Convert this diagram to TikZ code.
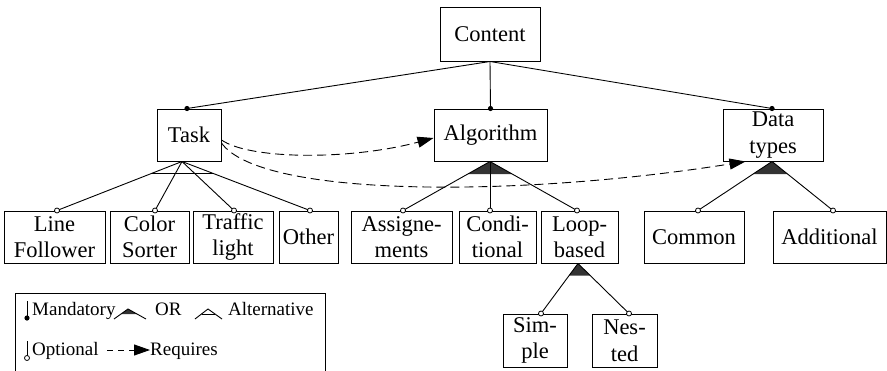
\documentclass[tikz,border=0pt]{standalone}
\usepackage{fontspec}
\setmainfont{Liberation Serif}
\usetikzlibrary{arrows.meta,calc}
\definecolor{groupfill}{HTML}{333333}

\begin{document}
\begin{tikzpicture}[x=1pt,y=-1pt,
  box/.style={draw, line width=1pt, inner sep=0pt, align=center,
    minimum height=52pt, font=\fontsize{22.5}{26.5}\selectfont},
  edge/.style={line width=0.9pt},
  req/.style={line width=0.9pt, dash pattern=on 9pt off 5pt,
    -{Triangle[length=16pt,width=11pt]}},
  legendtext/.style={inner sep=0pt, anchor=base west,
    font=\fontsize{19}{22}\selectfont},
  grp/.style={fill=groupfill}]
\useasboundingbox (0,0) rectangle (887,370);

% feature boxes
\node[box, minimum width=100pt, minimum height=54pt] (content) at (490,34) {Content};
\node[box, minimum width=64pt]  (task) at (189,135)   {Task};
\node[box, minimum width=113pt] (alg)  at (490.5,135) {Algorithm};
\node[box, minimum width=100pt] (dt)   at (773,135)   {Data\\types};

\node[box, minimum width=101pt] (lf) at (54.5,237)  {Line\\Follower};
\node[box, minimum width=79pt]  (cs) at (149.5,237) {Color\\Sorter};
\node[box, minimum width=80pt]  (tl) at (233,237)   {Traffic\\light};
\node[box, minimum width=59pt]  (ot) at (308.5,237) {Other};
\node[box, minimum width=101pt] (as) at (401.5,237) {Assigne-\\ments};
\node[box, minimum width=77pt]  (co) at (497.5,237) {Condi-\\tional};
\node[box, minimum width=77pt]  (lp) at (579.5,237) {Loop-\\based};
\node[box, minimum width=100pt] (cm) at (694,237)   {Common};
\node[box, minimum width=113pt] (ad) at (829.5,237) {Additional};
\node[box, minimum width=64pt, minimum height=53pt] (si) at (535,340.5)   {Sim-\\ple};
\node[box, minimum width=65pt, minimum height=53pt] (ne) at (624.5,340.5) {Nes-\\ted};

% attachment points
\coordinate (c-out)  at (content.south);
\coordinate (t-in)   at ([xshift=-2pt]task.north);
\coordinate (a-in)   at (alg.north);
\coordinate (d-in)   at ([xshift=-1pt]dt.north);
\coordinate (t-out)  at ([xshift=-7pt]task.south);
\coordinate (a-out)  at ([xshift=-0.5pt]alg.south);
\coordinate (d-out)  at ([xshift=-1pt]dt.south);
\coordinate (l-out)  at ([xshift=-1.5pt]lp.south);
\coordinate (lf-in)  at ([xshift=2.5pt]lf.north);
\coordinate (cs-in)  at ([xshift=5.5pt]cs.north);
\coordinate (tl-in)  at ([xshift=1pt]tl.north);
\coordinate (ot-in)  at ([xshift=1.5pt]ot.north);
\coordinate (as-in)  at ([xshift=1.5pt]as.north);
\coordinate (co-in)  at ([xshift=-7.5pt]co.north);
\coordinate (lp-in)  at ([xshift=-2.5pt]lp.north);
\coordinate (cm-in)  at ([xshift=4pt]cm.north);
\coordinate (ad-in)  at ([xshift=3.5pt]ad.north);
\coordinate (si-in)  at ([xshift=6pt]si.north);
\coordinate (ne-in)  at ([xshift=4.5pt]ne.north);

% mandatory links
\draw[edge] (c-out) -- (t-in);
\draw[edge] (c-out) -- (a-in);
\draw[edge] (c-out) -- (d-in);

% alternative group under Task
\foreach \c in {lf-in,cs-in,tl-in,ot-in} \draw[edge] (t-out) -- (\c);
\draw[edge] ($(t-out)!0.24!(lf-in)$) -- ($(t-out)!0.24!(ot-in)$);

% OR groups
\fill[grp] ($(a-out)!0.26!(as-in)$) -- (a-out) -- ($(a-out)!0.26!(lp-in)$) -- cycle;
\foreach \c in {as-in,co-in,lp-in} \draw[edge] (a-out) -- (\c);
\fill[grp] ($(d-out)!0.26!(cm-in)$) -- (d-out) -- ($(d-out)!0.26!(ad-in)$) -- cycle;
\foreach \c in {cm-in,ad-in} \draw[edge] (d-out) -- (\c);
\fill[grp] ($(l-out)!0.24!(si-in)$) -- (l-out) -- ($(l-out)!0.24!(ne-in)$) -- cycle;
\foreach \c in {si-in,ne-in} \draw[edge] (l-out) -- (\c);

% end markers
\foreach \c in {t-in,a-in,d-in} \fill (\c) circle (2.6pt);
\foreach \c in {lf-in,cs-in,tl-in,ot-in,as-in,co-in,lp-in,cm-in,ad-in,si-in,ne-in}
  \draw[line width=0.8pt, fill=white] (\c) circle (2.5pt);

% requires constraints
\draw[req] ([yshift=-5pt]task.east) .. controls +(29,20) and +(-82,22) .. ([yshift=-3pt]alg.west);
\draw[req] ([yshift=-8pt]task.east) .. controls +(39,55) and +(-226,36) .. ([xshift=23pt]dt.south west);

% legend
\draw[line width=1pt] (15,375) -- (15,293) -- (325,293) -- (325,375);
\coordinate (m-top) at (27,301);
\coordinate (m-bot) at (27,318);
\draw[edge] (m-top) -- (m-bot);
\fill (m-bot) circle (2.6pt);
\node[legendtext] (l-mand) at (32,315) {Mandatory};
\coordinate (or-apex) at (128,309);
\coordinate (or-l) at (114,319);
\coordinate (or-r) at (146,319);
\fill[grp] ($(or-apex)!0.5!(or-l)$) -- (or-apex) -- ($(or-apex)!0.5!(or-r)$) -- cycle;
\draw[edge] (or-l) -- (or-apex) -- (or-r);
\node[legendtext] (l-or) at (155,315) {OR};
\coordinate (al-apex) at (208,309);
\coordinate (al-l) at (195,319);
\coordinate (al-r) at (222,319);
\draw[edge] (al-l) -- (al-apex) -- (al-r);
\draw[edge] ($(al-apex)!0.5!(al-l)$) -- ($(al-apex)!0.5!(al-r)$);
\node[legendtext] (l-alt) at (228,315) {Alternative};

\coordinate (o-top) at (27,341);
\coordinate (o-bot) at (27,358);
\draw[edge] (o-top) -- (o-bot);
\draw[line width=0.8pt, fill=white] (o-bot) circle (2.5pt);
\node[legendtext] (l-opt) at (32,355) {Optional};
\coordinate (r-start) at (107,350);
\node[legendtext] (l-req) at (150,355) {Requires};
\draw[req, dash pattern=on 6pt off 5pt] (r-start) -- (l-req.base west |- r-start);
\end{tikzpicture}
\end{document}
